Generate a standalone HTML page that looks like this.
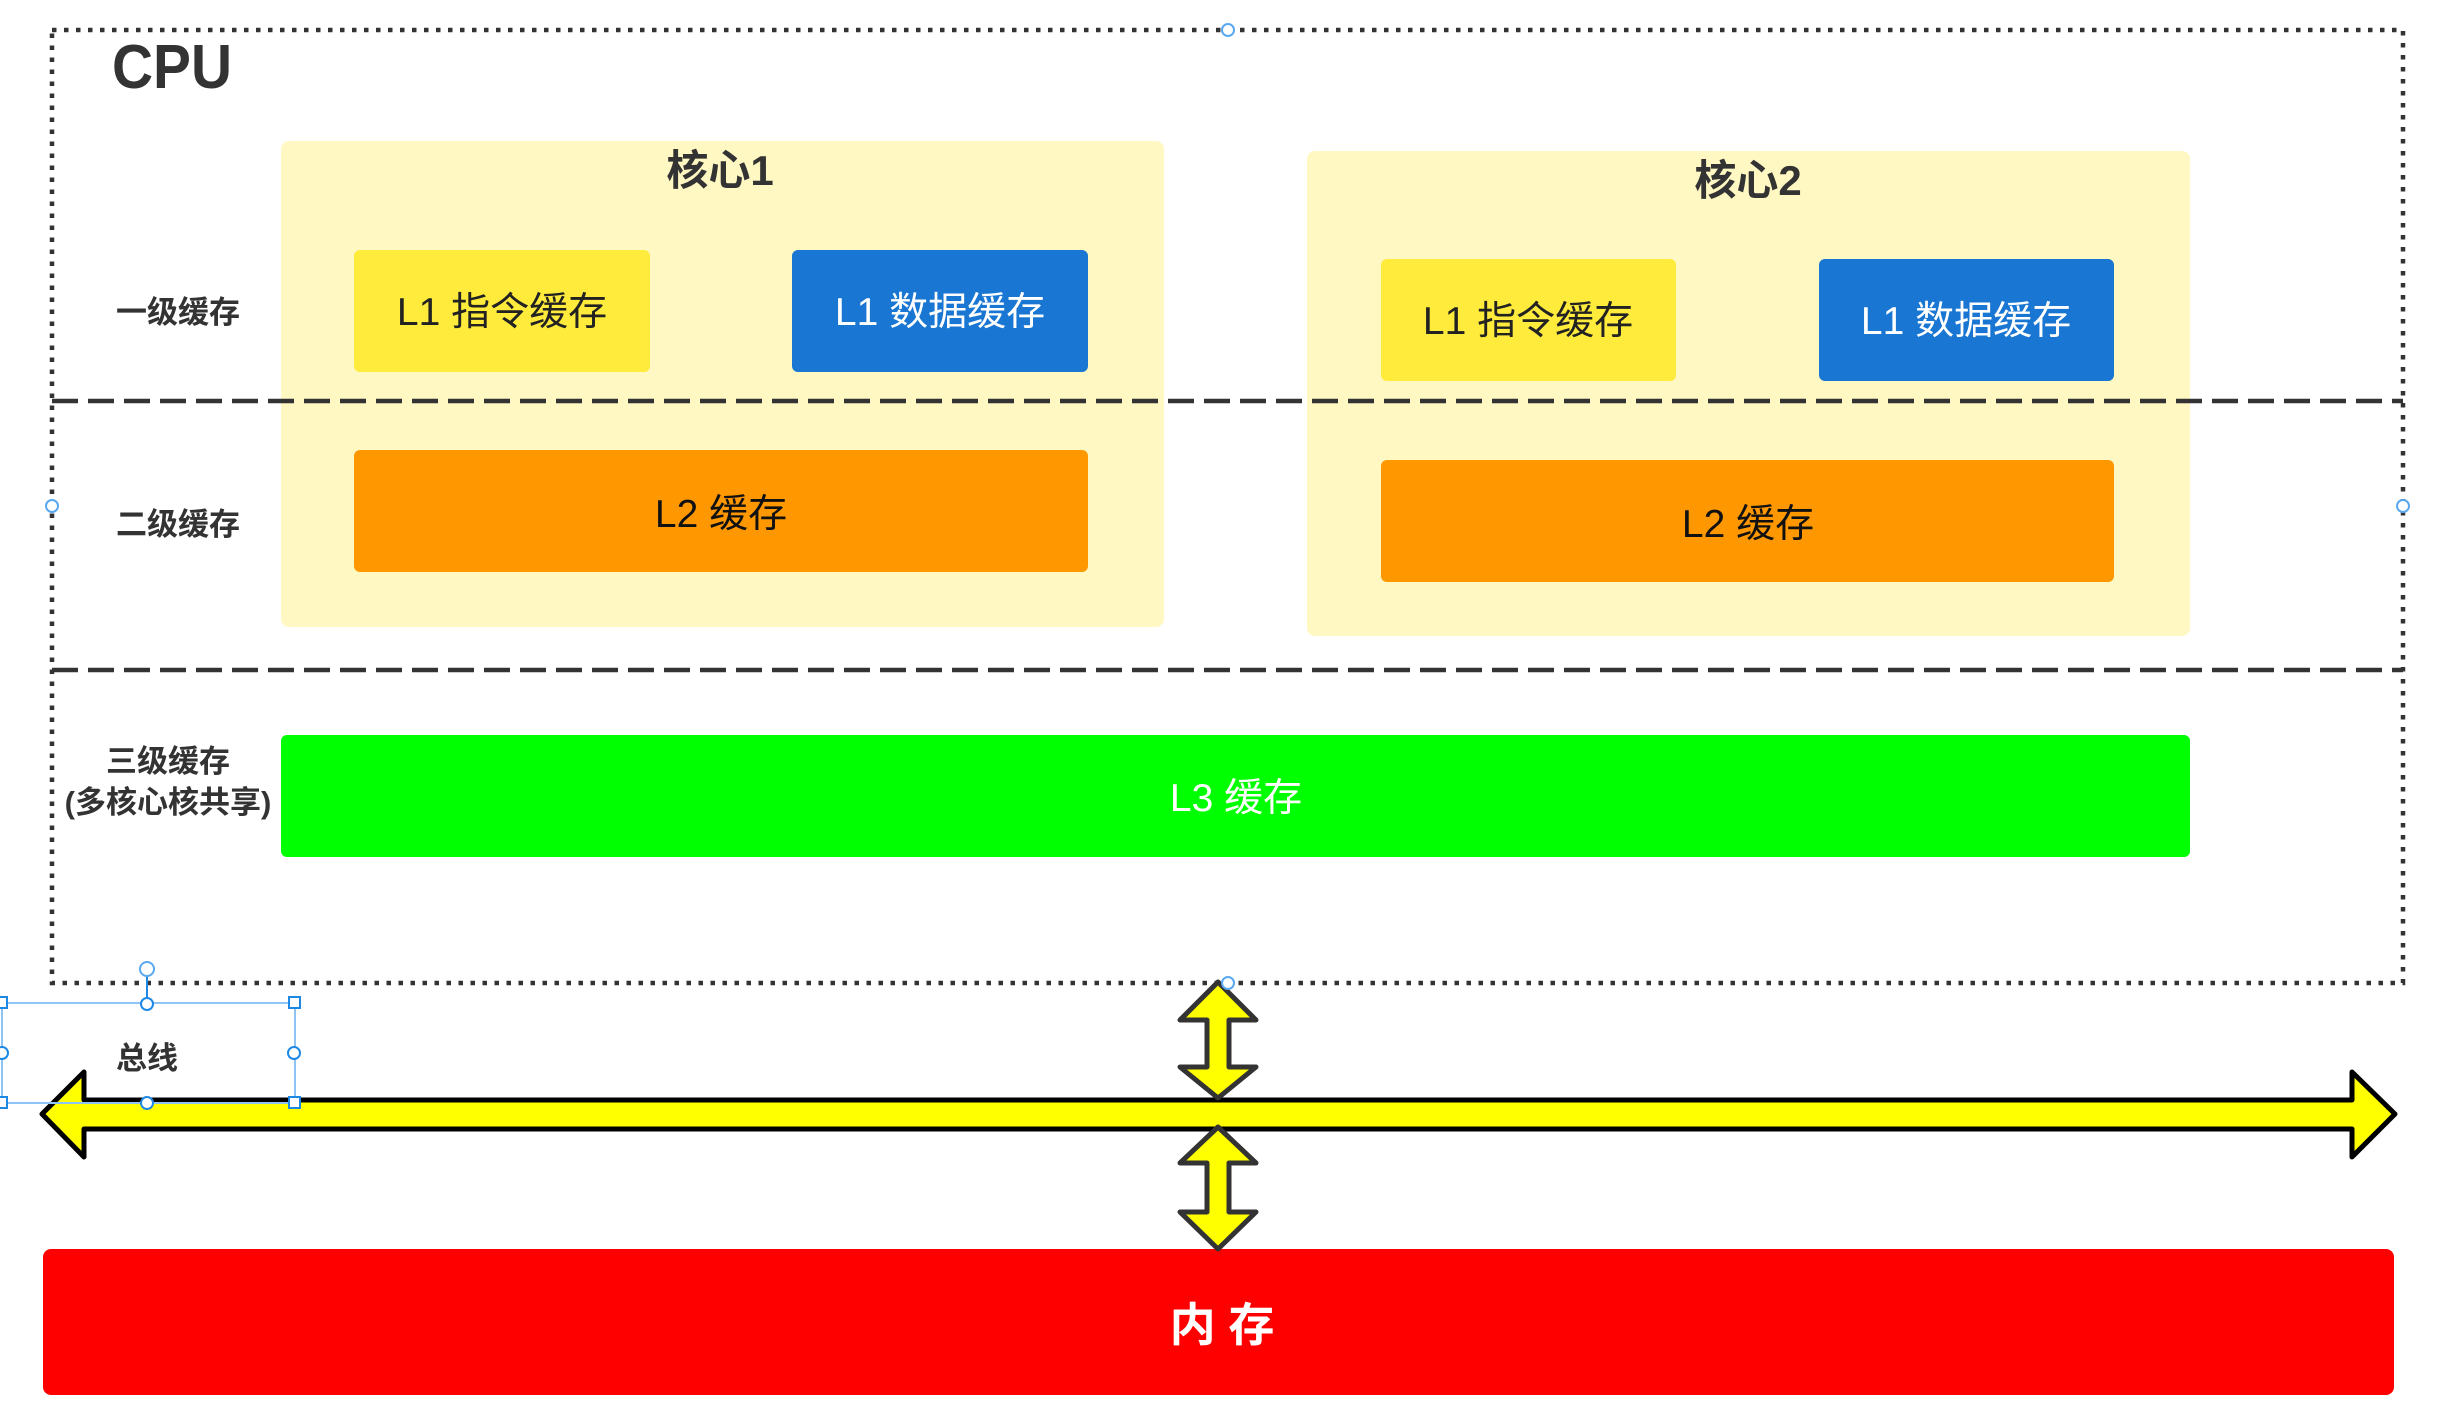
<!DOCTYPE html>
<html><head><meta charset="utf-8"><style>
html,body{margin:0;padding:0;background:#fff;}
svg{display:block;}
text{font-family:"Liberation Sans","Noto Sans CJK SC",sans-serif;}
</style></head><body>
<svg width="2449" height="1418" viewBox="0 0 2449 1418" xmlns="http://www.w3.org/2000/svg">
<rect x="52" y="30" width="2351" height="953" fill="none" stroke="#333" stroke-width="4.5" stroke-dasharray="4.5 7.5"/>
<text x="112" y="88" font-size="62" font-weight="bold" fill="#333" textLength="120" lengthAdjust="spacingAndGlyphs">CPU</text>

<rect x="281" y="141" width="883" height="486" rx="8" fill="#FFF8C2"/>
<rect x="1307" y="151" width="883" height="485" rx="8" fill="#FFF8C2"/>

<line x1="52" y1="401" x2="2403" y2="401" stroke="#333" stroke-width="4.5" stroke-dasharray="26 10"/>
<line x1="52" y1="670" x2="2403" y2="670" stroke="#333" stroke-width="4.5" stroke-dasharray="26 10"/>

<text x="720" y="185" font-size="42" font-weight="bold" fill="#333" text-anchor="middle">核心1</text>
<text x="1748" y="195" font-size="42" font-weight="bold" fill="#333" text-anchor="middle">核心2</text>

<rect x="354" y="250" width="296" height="122" rx="6" fill="#FFEB3B"/>
<text x="502" y="325" font-size="39" fill="#222" text-anchor="middle">L1 指令缓存</text>
<rect x="792" y="250" width="296" height="122" rx="6" fill="#1976D2"/>
<text x="940" y="325" font-size="39" fill="#fff" text-anchor="middle">L1 数据缓存</text>
<rect x="354" y="450" width="734" height="122" rx="6" fill="#FF9800"/>
<text x="721" y="527" font-size="39" fill="#111" text-anchor="middle">L2 缓存</text>

<rect x="1381" y="259" width="295" height="122" rx="6" fill="#FFEB3B"/>
<text x="1528" y="334" font-size="39" fill="#222" text-anchor="middle">L1 指令缓存</text>
<rect x="1819" y="259" width="295" height="122" rx="6" fill="#1976D2"/>
<text x="1966" y="334" font-size="39" fill="#fff" text-anchor="middle">L1 数据缓存</text>
<rect x="1381" y="460" width="733" height="122" rx="6" fill="#FF9800"/>
<text x="1748" y="537" font-size="39" fill="#111" text-anchor="middle">L2 缓存</text>

<rect x="281" y="735" width="1909" height="122" rx="6" fill="#00FF00"/>
<text x="1236" y="811" font-size="39" fill="#fff" text-anchor="middle">L3 缓存</text>

<text x="178" y="323" font-size="31" font-weight="bold" fill="#333" text-anchor="middle">一级缓存</text>
<text x="178" y="535" font-size="31" font-weight="bold" fill="#333" text-anchor="middle">二级缓存</text>
<text x="168" y="772" font-size="31" font-weight="bold" fill="#333" text-anchor="middle">三级缓存</text>
<text x="168" y="813" font-size="31" font-weight="bold" fill="#333" text-anchor="middle">(多核心核共享)</text>

<rect x="43" y="1249" width="2351" height="146" rx="8" fill="#FF0000"/>
<text x="1222" y="1341" font-size="46" font-weight="bold" fill="#fff" text-anchor="middle">内 存</text>

<polygon points="42,1114 84,1072 84,1100 2352,1100 2352,1072 2395,1114 2352,1157 2352,1129 84,1129 84,1157" fill="#FFFF00" stroke="#000" stroke-width="5" stroke-linejoin="round"/>

<polygon points="1218,982 1256,1020 1229,1020 1229,1067 1256,1067 1218,1098 1180,1067 1207,1067 1207,1020 1180,1020" fill="#FFFF00" stroke="#333" stroke-width="5" stroke-linejoin="round"/>
<polygon points="1218,1127 1256,1163 1229,1163 1229,1212 1256,1212 1218,1249 1180,1212 1207,1212 1207,1163 1180,1163" fill="#FFFF00" stroke="#333" stroke-width="5" stroke-linejoin="round"/>

<rect x="2" y="1003" width="293" height="100" fill="none" stroke="#8ec3f5" stroke-width="2"/>
<line x1="147" y1="976" x2="147" y2="1003" stroke="#1e88e5" stroke-width="2"/>
<circle cx="147" cy="969" r="7" fill="#fff" stroke="#5aa8f0" stroke-width="2"/>
<text x="147" y="1069" font-size="31" font-weight="bold" fill="#333" text-anchor="middle">总线</text>
<g fill="#fff" stroke="#1e88e5" stroke-width="2">
<rect x="-4" y="997" width="11" height="11"/>
<rect x="289" y="997" width="11" height="11"/>
<rect x="-4" y="1097" width="11" height="11"/>
<rect x="289" y="1097" width="11" height="11"/>
<circle cx="147" cy="1004" r="6"/>
<circle cx="147" cy="1103" r="6"/>
<circle cx="2" cy="1053" r="6"/>
<circle cx="294" cy="1053" r="6"/>
</g>
<g fill="#fff" stroke="#5aa8f0" stroke-width="2">
<circle cx="1228" cy="30" r="6"/>
<circle cx="1228" cy="983" r="6"/>
<circle cx="52" cy="506" r="6"/>
<circle cx="2403" cy="506" r="6"/>
</g>
</svg>
</body></html>
